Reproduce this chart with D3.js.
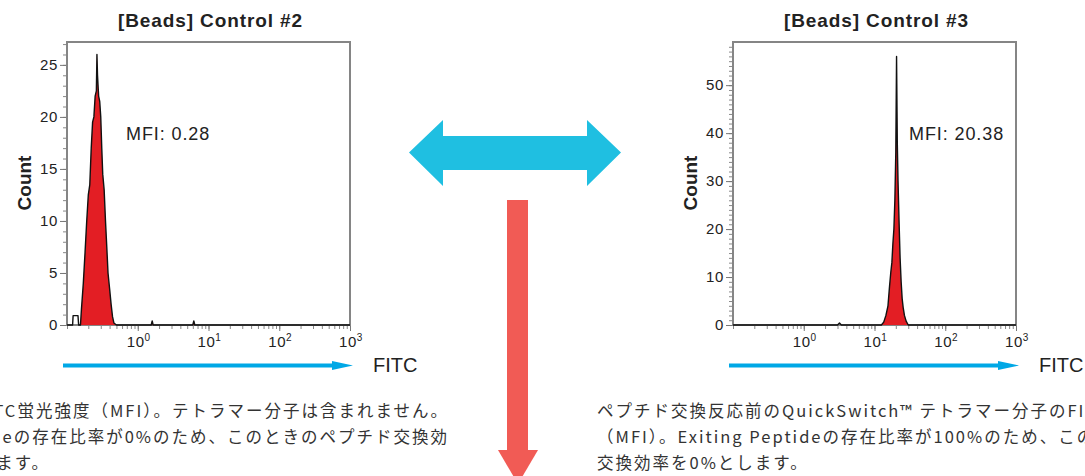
<!DOCTYPE html>
<html>
<head>
<meta charset="utf-8">
<script src="https://cdn.jsdelivr.net/npm/d3@7"></script>
<style>
body { margin: 0; background: #fff; overflow: hidden; }
svg { display: block; }
text { font-family: "Liberation Sans", Arial, sans-serif; }
.jp { font-family: "Noto Sans CJK JP", sans-serif; fill: #333; font-size: 16.5px; letter-spacing: 2px; }
</style>
</head>
<body>
<div id="myChart"></div>
<script>
// histogram #2 (beads only)
var fitc2  = [0.1, 0.12, 0.122, 0.143, 0.146, 0.155, 0.16, 0.17, 0.18, 0.19, 0.2, 0.21, 0.22, 0.23, 0.24, 0.25, 0.26, 0.265, 0.27, 0.28, 0.29, 0.3, 0.31, 0.32, 0.335, 0.35, 0.365, 0.38, 0.4, 0.42, 0.44, 0.46, 0.5, 1.55, 1.6, 1.65, 6.0, 6.2, 6.4, 1000];
var count2 = [0, 0, 0.9, 0.9, 0, 0, 1.5, 4, 7, 10, 12.5, 13.5, 17, 19.5, 20, 22, 22.5, 26, 24, 22, 21.5, 20, 17, 14.5, 13, 10, 7.5, 5, 3.5, 2, 0.8, 0.2, 0, 0, 0.4, 0, 0, 0.4, 0, 0];
// histogram #3 (before exchange)
var fitc3  = [0.1, 3.0, 3.2, 3.4, 12.5, 13.5, 14.5, 15.5, 16.3, 17, 17.6, 18.2, 18.8, 19.4, 20, 20.5, 21, 21.5, 22.2, 23, 23.8, 24.6, 25.5, 26.5, 28, 30, 1000];
var count3 = [0, 0, 0.4, 0, 0, 0.6, 2, 4, 8, 11, 13, 17, 20, 26, 36, 56, 38, 30, 22, 14, 9, 5.5, 3.5, 2, 0.8, 0, 0];

var titles = ["[Beads] Control #2", "[Beads] Control #3"];
var mfiLabels = ["MFI: 0.28", "MFI: 20.38"];
var yTicks2 = [0, 5, 10, 15, 20, 25];
var yTicks3 = [0, 10, 20, 30, 40, 50];
var yMax2 = 27.2, yMax3 = 59;
var xDomain = [0.1, 1000];
var xMajor = [1, 10, 100, 1000];
var xExp = ["0", "1", "2", "3"];

var noteLeft = ["FITC蛍光強度（MFI）。テトラマー分子は含まれません。",
                "Exiting Peptideの存在比率が0%のため、このときのペプチド交換効",
                "率を100%とします。"];
var noteRight = ["ペプチド交換反応前のQuickSwitch™ テトラマー分子のFITC蛍光強度",
                 "（MFI）。Exiting Peptideの存在比率が100%のため、このときのペプチド",
                 "交換効率を0%とします。"];

var svg = d3.select("#myChart")
    .append("svg")
    .attr("width", 1085).attr("height", 476);

function panel(x0, x1, fitc, count, yMax, yTicks, title, mfi, mfiX, fillFrom) {
    var top = 42, bottom = 325;
    var x = d3.scaleLog().domain(xDomain).range([x0, x1]);
    var y = d3.scaleLinear().domain([0, yMax]).range([bottom, top]);
    var g = svg.append("g");

    // frame
    g.append("rect")
        .attr("x", x0).attr("y", top)
        .attr("width", x1 - x0).attr("height", bottom - top)
        .attr("fill", "none")
        .attr("stroke", "#858585").attr("stroke-width", 2);

    // minor y ticks
    g.append("g")
        .attr("transform", "translate(" + (x0 - 1) + ",0)")
        .call(d3.axisLeft(y).tickValues(d3.range(0, yMax, 1)).tickSize(3).tickFormat(""))
        .call(s => s.select(".domain").remove())
        .selectAll("line").attr("stroke", "#888");

    // major y ticks
    var ya = g.append("g")
        .attr("transform", "translate(" + (x0 - 1) + ",0)")
        .call(d3.axisLeft(y).tickValues(yTicks).tickSize(6).tickPadding(2));
    ya.select(".domain").remove();
    ya.selectAll("line").attr("stroke", "#777");
    ya.selectAll("text")
        .attr("font-size", 15).attr("fill", "#222")
        .style("letter-spacing", "0.6px")
        .style("font-family", "Liberation Sans, Arial, sans-serif");

    // minor x ticks
    g.append("g")
        .attr("transform", "translate(0," + (bottom + 1) + ")")
        .call(d3.axisBottom(x).tickValues(x.ticks()).tickSize(3).tickFormat(""))
        .call(s => s.select(".domain").remove())
        .selectAll("line").attr("stroke", "#888");

    // major x ticks + labels 10^n
    var xa = g.append("g")
        .attr("transform", "translate(0," + (bottom + 1) + ")")
        .call(d3.axisBottom(x).tickValues(xMajor).tickSize(5).tickFormat(""));
    xa.select(".domain").remove();
    xa.selectAll("line").attr("stroke", "#777");
    var lab = g.selectAll(".xl").data(xMajor).enter()
        .append("text")
        .attr("x", d => x(d) + 1).attr("y", bottom + 22)
        .attr("text-anchor", "middle")
        .attr("font-size", 15).attr("fill", "#222")
        .style("letter-spacing", "0.6px");
    lab.append("tspan").text("10");
    lab.append("tspan").attr("dy", -6).attr("font-size", 10).text((d, i) => xExp[i]);

    // histogram
    var pts = fitc.map((d, i) => [d, count[i]]);
    g.append("path")
        .datum(pts.filter(d => d[0] >= fillFrom))
        .attr("d", d3.area().x(d => x(d[0])).y0(y(0)).y1(d => y(d[1])))
        .attr("fill", "#e31e24");
    g.append("path")
        .datum(pts)
        .attr("d", d3.line().x(d => x(d[0])).y(d => y(d[1])))
        .attr("fill", "none")
        .attr("stroke", "#111").attr("stroke-width", 1.4)
        .attr("stroke-linejoin", "round");

    // title + labels
    g.append("text")
        .attr("x", (x0 + x1) / 2 + 2).attr("y", 27)
        .attr("text-anchor", "middle")
        .attr("font-size", 19).attr("font-weight", "bold").attr("fill", "#222")
        .style("letter-spacing", "0.9px")
        .text(title);
    g.append("text")
        .attr("transform", "translate(" + (x0 - 36) + ",183) rotate(-90)")
        .attr("text-anchor", "middle")
        .attr("font-size", 19).attr("font-weight", "bold").attr("fill", "#222")
        .text("Count");
    g.append("text")
        .attr("x", mfiX).attr("y", 140)
        .attr("font-size", 18).attr("fill", "#222")
        .style("letter-spacing", "0.9px")
        .text(mfi);

    // FITC arrow
    g.append("line")
        .attr("x1", x0 - 4).attr("y1", 365.5)
        .attr("x2", x1 - 15).attr("y2", 365.5)
        .attr("stroke", "#00a8e6").attr("stroke-width", 4);
    g.append("polygon")
        .attr("points", [[x1 - 18, 361], [x1 + 3, 365.5], [x1 - 18, 370]].join(" "))
        .attr("fill", "#00a8e6");
    g.append("text")
        .attr("x", x1 + 23).attr("y", 372)
        .attr("font-size", 20).attr("fill", "#222")
        .text("FITC");
}

panel(67, 350, fitc2, count2, yMax2, yTicks2, titles[0], mfiLabels[0], 126, 0.15);
panel(733, 1016, fitc3, count3, yMax3, yTicks3, titles[1], mfiLabels[1], 909, 10);

// big cyan double arrow
svg.append("polygon")
    .attr("points", [[409, 152.5], [443, 120], [443, 136], [587, 136], [587, 120],
                     [621, 152.5], [587, 186], [587, 170], [443, 170], [443, 186]].join(" "))
    .attr("fill", "#1fbfe1");

// red down arrow
svg.append("rect")
    .attr("x", 507).attr("y", 200)
    .attr("width", 21).attr("height", 252)
    .attr("fill", "#f15b55");
svg.append("polygon")
    .attr("points", [[498, 450], [538, 450], [518, 484]].join(" "))
    .attr("fill", "#f15b55");

// notes
var lineY = [417, 443, 469];
svg.selectAll(".nl").data(noteLeft).enter()
    .append("text").attr("class", "jp")
    .attr("x", (d, i) => i == 2 ? 50 : 449)
    .attr("y", (d, i) => lineY[i])
    .attr("text-anchor", "end")
    .text(d => d);
svg.selectAll(".nr").data(noteRight).enter()
    .append("text").attr("class", "jp")
    .attr("x", 597)
    .attr("y", (d, i) => lineY[i])
    .text(d => d);
</script>
</body>
</html>
